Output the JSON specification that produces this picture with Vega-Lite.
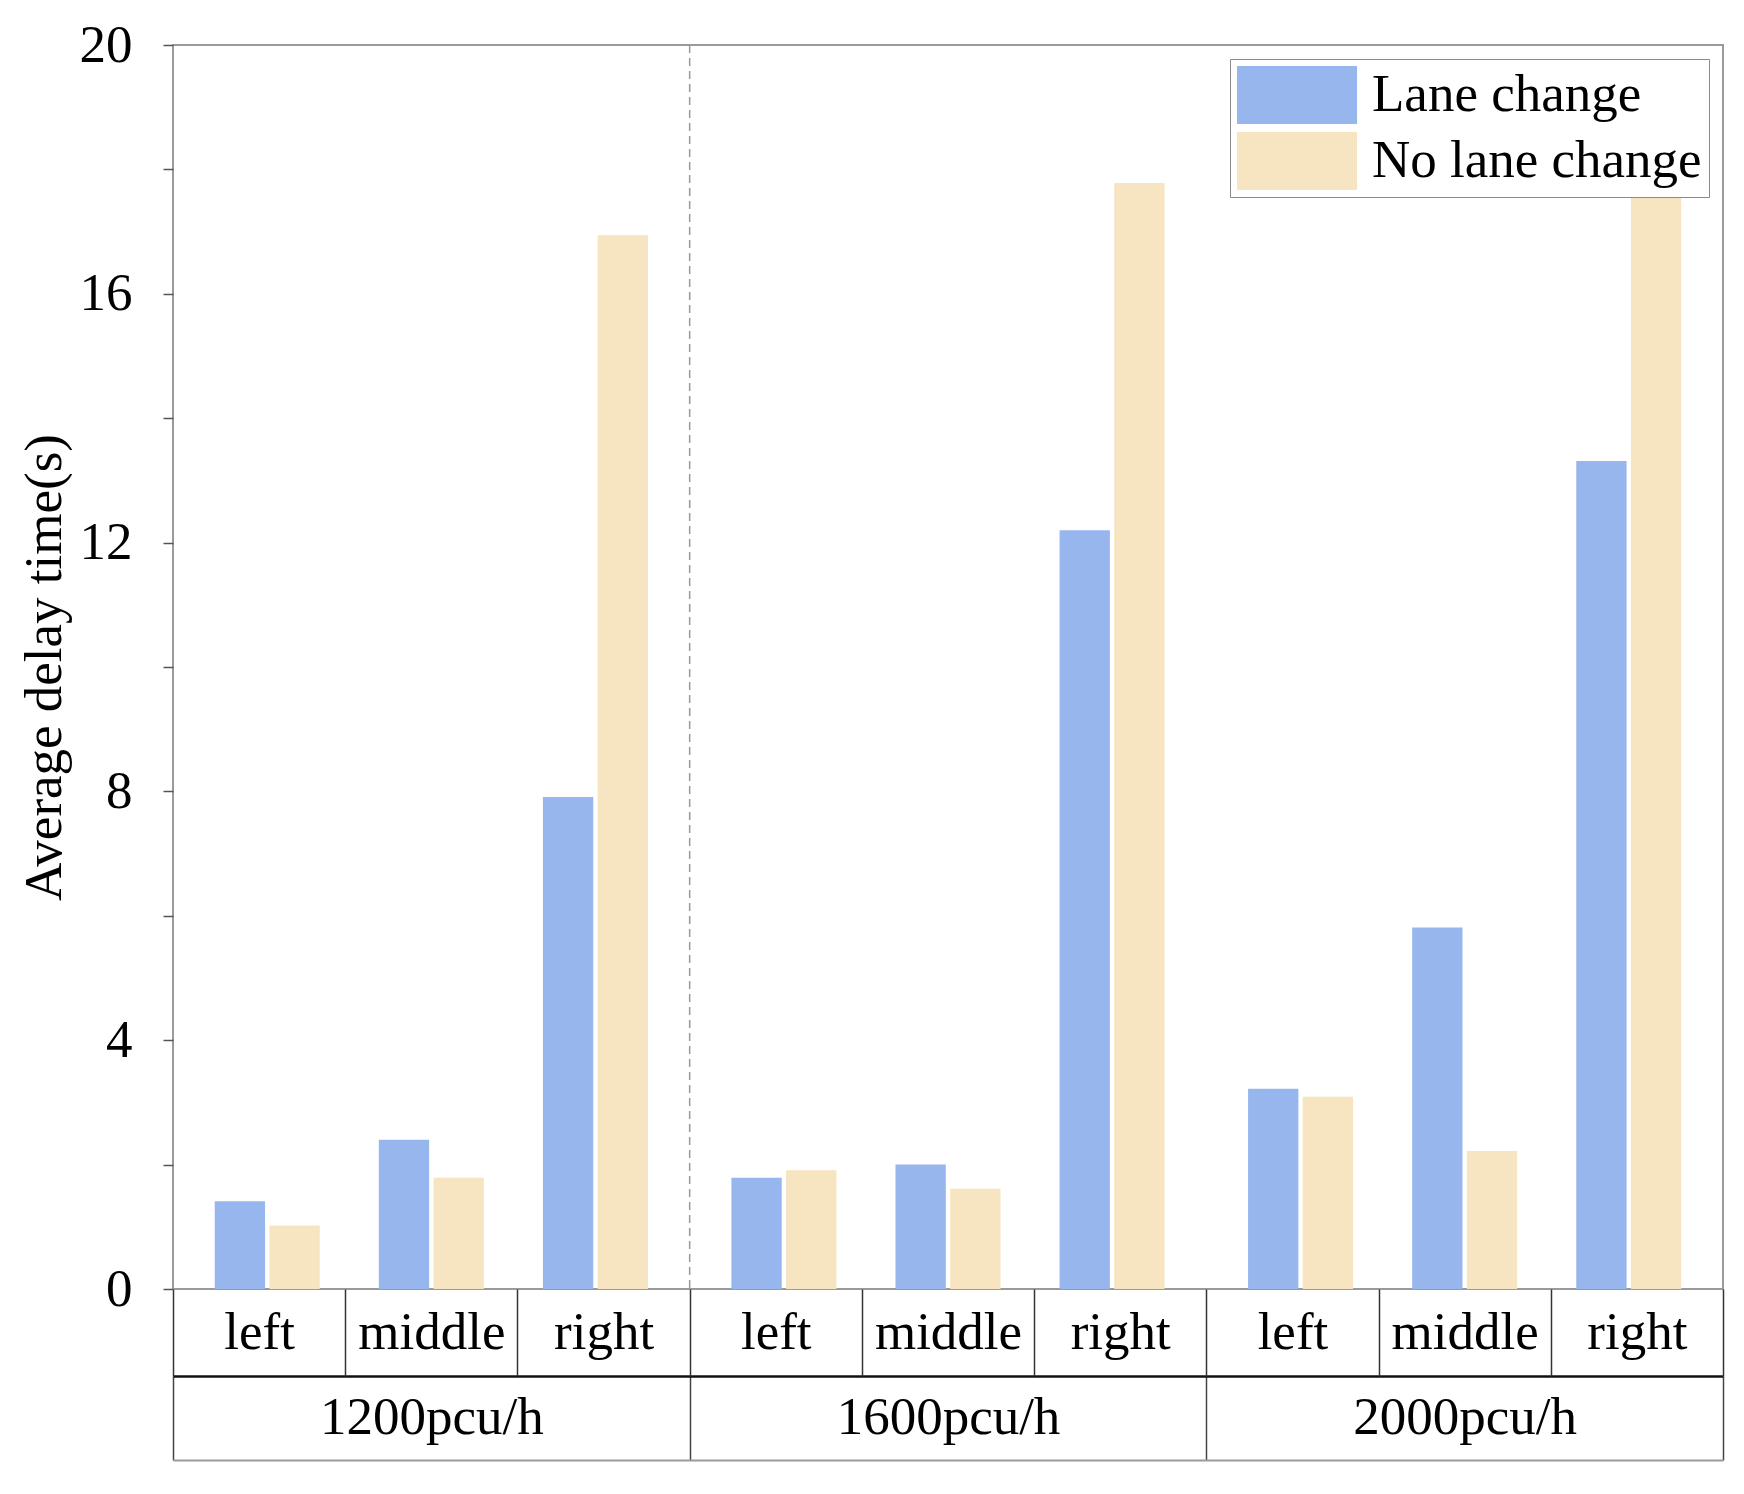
{
  "$schema": "https://vega.github.io/schema/vega-lite/v6.json",
  "width": 1550,
  "height": 1244,
  "autosize": {"type": "none"},
  "padding": {"left": 173, "top": 45, "right": 21, "bottom": 205},
  "background": "white",
  "config": {
    "view": {"stroke": "#9a9a9a", "strokeWidth": 2},
    "font": "Liberation Serif",
    "axis": {"labelFont": "Liberation Serif", "titleFont": "Liberation Serif", "labelColor": "black", "titleColor": "black", "grid": false}
  },
  "datasets": {
    "bars": [
      {"group": "1200pcu/h", "lane": "left", "cell": "1200pcu/h|left", "slot": "left|Lane change", "series": "Lane change", "value": 1.41},
      {"group": "1200pcu/h", "lane": "left", "cell": "1200pcu/h|left", "slot": "left|No lane change", "series": "No lane change", "value": 1.02},
      {"group": "1200pcu/h", "lane": "middle", "cell": "1200pcu/h|middle", "slot": "middle|Lane change", "series": "Lane change", "value": 2.40},
      {"group": "1200pcu/h", "lane": "middle", "cell": "1200pcu/h|middle", "slot": "middle|No lane change", "series": "No lane change", "value": 1.79},
      {"group": "1200pcu/h", "lane": "right", "cell": "1200pcu/h|right", "slot": "right|Lane change", "series": "Lane change", "value": 7.91},
      {"group": "1200pcu/h", "lane": "right", "cell": "1200pcu/h|right", "slot": "right|No lane change", "series": "No lane change", "value": 16.94},
      {"group": "1600pcu/h", "lane": "left", "cell": "1600pcu/h|left", "slot": "left|Lane change", "series": "Lane change", "value": 1.79},
      {"group": "1600pcu/h", "lane": "left", "cell": "1600pcu/h|left", "slot": "left|No lane change", "series": "No lane change", "value": 1.91},
      {"group": "1600pcu/h", "lane": "middle", "cell": "1600pcu/h|middle", "slot": "middle|Lane change", "series": "Lane change", "value": 2.00},
      {"group": "1600pcu/h", "lane": "middle", "cell": "1600pcu/h|middle", "slot": "middle|No lane change", "series": "No lane change", "value": 1.61},
      {"group": "1600pcu/h", "lane": "right", "cell": "1600pcu/h|right", "slot": "right|Lane change", "series": "Lane change", "value": 12.2},
      {"group": "1600pcu/h", "lane": "right", "cell": "1600pcu/h|right", "slot": "right|No lane change", "series": "No lane change", "value": 17.78},
      {"group": "2000pcu/h", "lane": "left", "cell": "2000pcu/h|left", "slot": "left|Lane change", "series": "Lane change", "value": 3.22},
      {"group": "2000pcu/h", "lane": "left", "cell": "2000pcu/h|left", "slot": "left|No lane change", "series": "No lane change", "value": 3.09},
      {"group": "2000pcu/h", "lane": "middle", "cell": "2000pcu/h|middle", "slot": "middle|Lane change", "series": "Lane change", "value": 5.81},
      {"group": "2000pcu/h", "lane": "middle", "cell": "2000pcu/h|middle", "slot": "middle|No lane change", "series": "No lane change", "value": 2.22},
      {"group": "2000pcu/h", "lane": "right", "cell": "2000pcu/h|right", "slot": "right|Lane change", "series": "Lane change", "value": 13.31},
      {"group": "2000pcu/h", "lane": "right", "cell": "2000pcu/h|right", "slot": "right|No lane change", "series": "No lane change", "value": 18.0}
    ],
    "separators": [{"group": "1600pcu/h"}]
  },
  "resolve": {"scale": {"x": "independent"}, "axis": {"x": "independent"}},
  "layer": [
    {
      "data": {"name": "bars"},
      "mark": {"type": "bar"},
      "encoding": {
        "x": {
          "field": "group", "type": "nominal",
          "scale": {"domain": ["1200pcu/h", "1600pcu/h", "2000pcu/h"], "paddingInner": 0, "paddingOuter": 0},
          "axis": {
            "orient": "bottom", "title": null, "offset": 87,
            "domain": true, "domainColor": "#111", "domainWidth": 2.5,
            "labelAngle": 0, "labelFontSize": 53, "labelBaseline": "middle", "labelPadding": -43, "labelLimit": 0,
            "tickBand": "extent", "tickSize": 84, "tickColor": "#444", "tickWidth": 1.5
          }
        },
        "xOffset": {
          "field": "slot", "type": "nominal",
          "scale": {
            "domain": ["left|Lane change", "left|No lane change", "gap1", "middle|Lane change", "middle|No lane change", "gap2", "right|Lane change", "right|No lane change"],
            "paddingInner": 0.08, "paddingOuter": 0.763
          }
        },
        "y": {
          "field": "value", "type": "quantitative",
          "scale": {"domain": [0, 20], "nice": false, "zero": true},
          "axis": {
            "title": "Average delay time(s)", "titleFontSize": 53, "titleFontWeight": "normal", "titlePadding": 8,
            "values": [0, 2, 4, 6, 8, 10, 12, 14, 16, 18, 20],
            "labelExpr": "datum.value % 4 == 0 ? datum.label : ''",
            "labelFontSize": 53, "labelPadding": 31, "tickSize": 10, "tickColor": "#555", "tickWidth": 1.5,
            "domain": false
          }
        },
        "color": {
          "field": "series", "type": "nominal",
          "scale": {"domain": ["Lane change", "No lane change"], "range": ["#98b6ee", "#f7e4c0"]},
          "legend": {
            "title": null, "orient": "top-right", "offset": 14,
            "fillColor": "white", "strokeColor": "#8a8a8a", "padding": 7,
            "symbolType": "M-1,-1H3.14V1H-1Z", "symbolSize": 3364, "symbolStrokeWidth": 0, "symbolOpacity": 1,
            "labelFont": "Liberation Serif", "labelFontSize": 53, "labelColor": "black", "labelOffset": 77, "labelLimit": 0,
            "rowPadding": 8
          }
        }
      }
    },
    {
      "data": {"name": "separators"},
      "mark": {"type": "rule", "color": "#999999", "strokeWidth": 1.5, "strokeDash": [8, 5]},
      "encoding": {
        "x": {
          "field": "group", "type": "nominal", "bandPosition": 0,
          "scale": {"domain": ["1200pcu/h", "1600pcu/h", "2000pcu/h"], "paddingInner": 0, "paddingOuter": 0},
          "axis": {
            "orient": "bottom", "title": null, "offset": 171,
            "domain": true, "domainColor": "#9a9a9a", "domainWidth": 2,
            "labels": false, "ticks": false
          }
        }
      }
    },
    {
      "data": {"name": "bars"},
      "mark": {"type": "rule", "opacity": 0},
      "encoding": {
        "x": {
          "field": "cell", "type": "nominal", "sort": null,
          "scale": {"paddingInner": 0, "paddingOuter": 0},
          "axis": {
            "orient": "bottom", "title": null, "domain": false,
            "labelExpr": "split(datum.value, '|')[1]",
            "labelAngle": 0, "labelFontSize": 53, "labelBaseline": "middle",
            "labelPadding": -44, "labelLimit": 0,
            "tickBand": "extent", "tickSize": 87, "tickColor": "#333", "tickWidth": 1.5
          }
        }
      }
    }
  ]
}
